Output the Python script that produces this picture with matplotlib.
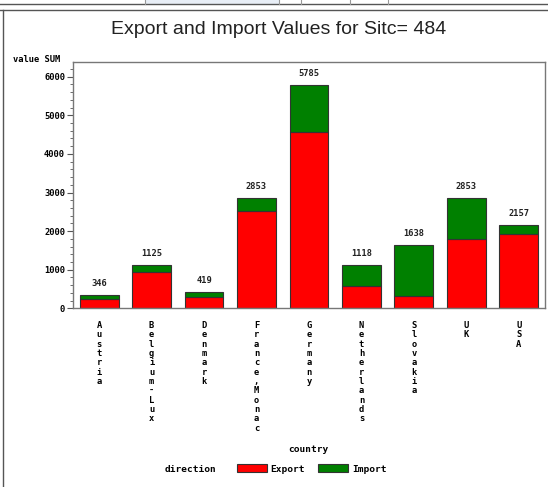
import numpy as np
import matplotlib.pyplot as plt
from matplotlib.lines import Line2D
from matplotlib.patches import Rectangle
from matplotlib.ticker import MultipleLocator

countries = ["Austria", "Belgium-Lux", "Denmark", "France,Monac", "Germany",
             "Netherlands", "Slovakia", "UK", "USA"]
export_vals = [242, 941, 302, 2522, 4577, 587, 311, 1796, 1917]
totals = [346, 1125, 419, 2853, 5785, 1118, 1638, 2853, 2157]
import_vals = [t - e for t, e in zip(totals, export_vals)]

W, H = 548, 487
mono = "DejaVu Sans Mono"


def fx(px):
    return px / W


def fy(py):
    return 1 - py / H


fig = plt.figure(figsize=(W / 100, H / 100), dpi=100)

# browser chrome around the graph
fig.add_artist(Rectangle((fx(145), fy(4)), fx(279) - fx(145), fy(0) - fy(4),
                         transform=fig.transFigure, color="#e8eef6", lw=0))
for y in (4, 10):
    fig.add_artist(Line2D([0, 1], [fy(y), fy(y)], color="#555555", lw=1))
for x in (145, 279, 301, 350, 388):
    fig.add_artist(Line2D([fx(x), fx(x)], [fy(0), fy(4)], color="#999999", lw=0.8))
fig.add_artist(Line2D([fx(3), fx(3)], [fy(10), 0], color="#555555", lw=1))

ax = fig.add_axes([fx(73.4), fy(308.3), fx(545) - fx(73.4), fy(61.7) - fy(308.3)])
x = np.arange(len(countries))
b1 = ax.bar(x, export_vals, width=0.74, color="#ff0000", edgecolor="#333333", lw=0.8)
b2 = ax.bar(x, import_vals, width=0.74, bottom=export_vals, color="#008000",
            edgecolor="#333333", lw=0.8)

for xi, t in zip(x, totals):
    ax.annotate(str(t), (xi, t), xytext=(0, 5), textcoords="offset points",
                ha="center", va="bottom", fontsize=6.3, family=mono,
                fontweight="bold", color="#222222")

ax.set_xlim(-0.49, 8.5)
ax.set_ylim(0, 6390)
ax.yaxis.set_major_locator(MultipleLocator(1000))
ax.yaxis.set_minor_locator(MultipleLocator(200))
ax.tick_params(axis="y", which="major", length=4, width=0.8, color="#555555",
               labelsize=6.3, pad=2)
ax.tick_params(axis="y", which="minor", length=2, width=0.6, color="#555555")
for lab in ax.get_yticklabels():
    lab.set_family(mono)
    lab.set_fontweight("bold")

ax.set_xticks(x)
ax.set_xticklabels(["\n".join(c) for c in countries], family=mono,
                   fontweight="bold", fontsize=6.3, linespacing=1.05, va="top")
ax.tick_params(axis="x", length=0, pad=9)
for s in ax.spines.values():
    s.set_color("#777777")
    s.set_linewidth(1)

fig.text(fx(279), fy(30), "Export and Import Values for Sitc= 484",
         ha="center", va="center", fontsize=14, family="Liberation Sans",
         color="#222222")
fig.text(fx(13), fy(60), "value SUM", ha="left", va="center", fontsize=6.3,
         family=mono, fontweight="bold")
fig.text(fx(308), fy(450), "country", ha="center", va="center", fontsize=6.8,
         family=mono, fontweight="bold")
fig.text(fx(165), fy(469), "direction", ha="left", va="center", fontsize=6.8,
         family=mono, fontweight="bold")
fig.legend([b1, b2], ["Export", "Import"], loc="center left",
           bbox_to_anchor=(fx(228), fy(469)), ncol=2, frameon=False,
           handlelength=3.2, handleheight=0.9, columnspacing=1.4,
           handletextpad=0.4, prop={"family": mono, "weight": "bold", "size": 6.8})

fig.savefig("out.png", dpi=100)
